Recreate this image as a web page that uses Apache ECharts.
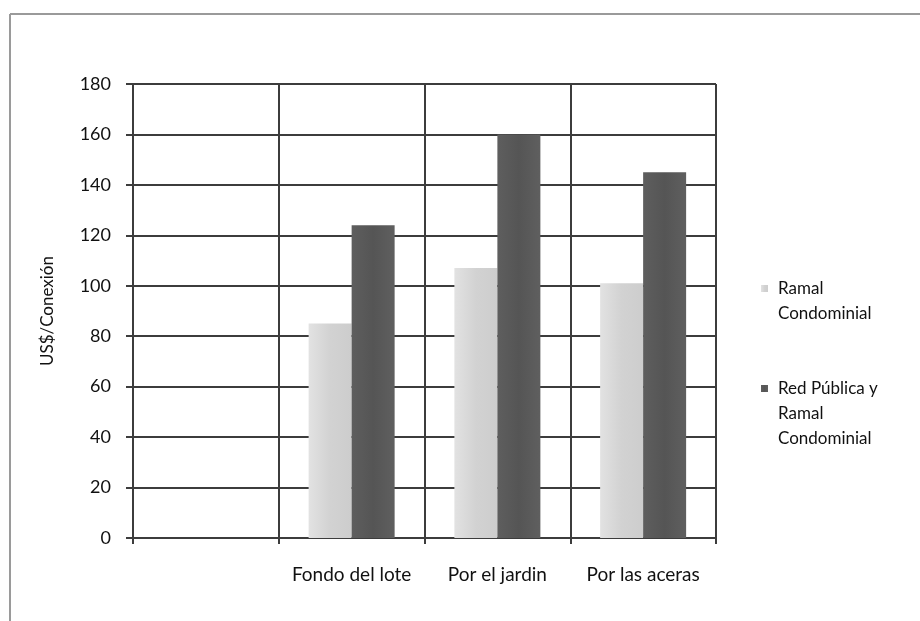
<!DOCTYPE html>
<html><head><meta charset="utf-8">
<script src="https://cdn.jsdelivr.net/npm/echarts@6/dist/echarts.min.js"></script>
<style>html,body{margin:0;padding:0;background:#fff}#c{width:920px;height:621px}</style>
</head><body><div id="c"></div>
<script>
const categories = ['', 'Fondo del lote', 'Por el jardin', 'Por las aceras'];
const ramal = [null, 85, 107, 101];
const redPublica = [null, 124, 160, 145];
const seriesNames = ['Ramal Condominial', 'Red Pública y Ramal Condominial'];
const legendLines = {
  'Ramal Condominial': ['Ramal', 'Condominial'],
  'Red Pública y Ramal Condominial': ['Red Pública y', 'Ramal', 'Condominial']
};
const yTicks = { min: 0, max: 180, interval: 20 };
const yName = 'US$/Conexión';

const font = 'Lato';
const chart = echarts.init(document.getElementById('c'), null, { renderer: 'canvas' });
const gridCol = '#3c3c3c';
chart.setOption({
  backgroundColor: '#fff',
  animation: false,
  graphic: [
    { type: 'line', shape: { x1: 10, y1: 14, x2: 920, y2: 14 }, style: { stroke: '#9a9a9a', lineWidth: 2 } },
    { type: 'line', shape: { x1: 10, y1: 14, x2: 10, y2: 621 }, style: { stroke: '#9a9a9a', lineWidth: 2 } }
  ],
  grid: { left: 133, right: 204, top: 84, bottom: 83 },
  legend: {
    orient: 'vertical',
    left: 756,
    top: 246,
    itemGap: 0,
    itemWidth: 7,
    itemHeight: 7,
    icon: 'rect',
    data: seriesNames,
    formatter: function (name) {
      const lines = legendLines[name];
      const pad = [];
      for (let i = 1; i < lines.length; i++) pad.push('');
      return pad.concat(lines).join('\n');
    },
    textStyle: { fontFamily: font, fontSize: 17, color: '#111', lineHeight: 25, padding: [0, 0, 0, 5] }
  },
  xAxis: {
    type: 'category',
    data: categories,
    axisLine: { lineStyle: { color: gridCol, width: 2 } },
    axisTick: { show: true, interval: 0, length: 6, lineStyle: { color: gridCol, width: 2 } },
    splitLine: { show: true, interval: 0, lineStyle: { color: gridCol, width: 2 } },
    axisLabel: { interval: 0, fontFamily: font, fontSize: 19, color: '#111', margin: 27 }
  },
  yAxis: {
    type: 'value',
    min: yTicks.min, max: yTicks.max, interval: yTicks.interval,
    name: yName,
    nameLocation: 'middle',
    nameGap: 77,
    nameRotate: 90,
    nameTextStyle: { fontFamily: font, fontSize: 17, color: '#111' },
    axisLine: { show: true, lineStyle: { color: gridCol, width: 2 } },
    axisTick: { show: true, length: 7, lineStyle: { color: gridCol, width: 2 } },
    splitLine: { show: true, lineStyle: { color: gridCol, width: 2 } },
    axisLabel: { fontFamily: font, fontSize: 18, color: '#111', margin: 22 }
  },
  series: [
    {
      name: seriesNames[0], type: 'bar', data: ramal, barWidth: 43, barGap: '0%',
      itemStyle: {
        color: new echarts.graphic.LinearGradient(0, 0, 1, 0, [
          { offset: 0, color: '#e2e2e2' }, { offset: 0.5, color: '#d2d2d2' }, { offset: 1, color: '#cdcdcd' }
        ])
      }
    },
    {
      name: seriesNames[1], type: 'bar', data: redPublica, barWidth: 43,
      itemStyle: {
        color: new echarts.graphic.LinearGradient(0, 0, 1, 0, [
          { offset: 0, color: '#5e5e5e' }, { offset: 0.5, color: '#555555' }, { offset: 1, color: '#5f5f5f' }
        ])
      }
    }
  ]
});
</script>
</body></html>
